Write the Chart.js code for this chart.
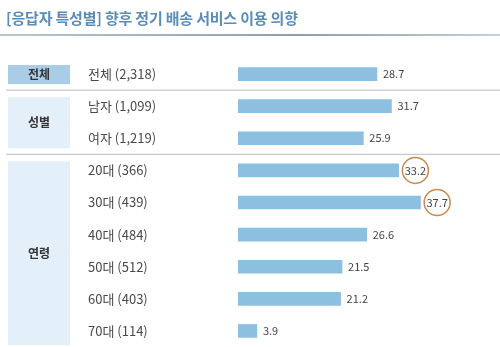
<!DOCTYPE html>
<html>
<head>
<meta charset="utf-8">
<script src="https://cdn.jsdelivr.net/npm/chart.js@4/dist/chart.umd.min.js"></script>
<style>
  html, body { margin: 0; padding: 0; background: #fff; }
  #wrap { position: relative; width: 500px; height: 347px; }
  #title {
    position: absolute; left: 6px; top: 7px;
    font-family: "Noto Sans CJK KR", sans-serif; font-weight: bold;
    font-size: 15px; color: #5a8cb6; letter-spacing: -0.2px;
  }
  #rule {
    position: absolute; left: 0; top: 34px; width: 500px; height: 2px;
    background: linear-gradient(to right, #b9c6d2, #8d9fb0 60%, #c5d0da);
  }
</style>
</head>
<body>
<div id="wrap">
  <div id="title">[응답자 특성별] 향후 정기 배송 서비스 이용 의향</div>
  <div id="rule"></div>
  <canvas id="c" width="500" height="347"></canvas>
</div>
<script>
const rowLabels = ['전체 (2,318)', '남자 (1,099)', '여자 (1,219)', '20대 (366)', '30대 (439)',
  '40대 (484)', '50대 (512)', '60대 (403)', '70대 (114)']
const values = [28.7, 31.7, 25.9, 33.2, 37.7, 26.6, 21.5, 21.2, 3.9]
const groupNames = ['전체', '성별', '연령']
const groupStart = [0, 1, 3]
const groupEnd = [0, 2, 8]
const circled = [3, 4]

const font = '"Noto Sans CJK KR", sans-serif'

const tablePlugin = {
  id: 'tablePlugin',
  beforeDatasetsDraw(chart) {
    const ctx = chart.ctx
    const y = chart.scales.y
    const step = y.getPixelForValue(1) - y.getPixelForValue(0)
    ctx.save()
    groupNames.forEach((name, g) => {
      const top = y.getPixelForValue(groupStart[g]) - step / 2 + 7
      let bottom = y.getPixelForValue(groupEnd[g]) + step / 2 - 6
      if (g === 2) bottom = 345
      ctx.fillStyle = g === 0 ? '#a9cde6' : '#e4f0f9'
      ctx.fillRect(8, top, 62, bottom - top)
      ctx.fillStyle = '#333'
      ctx.font = 'bold 12px ' + font
      ctx.textAlign = 'center'
      ctx.textBaseline = 'middle'
      ctx.fillText(name, 39, (top + bottom) / 2)
      if (g > 0) {
        const sep = y.getPixelForValue(groupStart[g]) - step / 2
        ctx.strokeStyle = '#bcbcbc'
        ctx.lineWidth = 1
        ctx.beginPath()
        ctx.moveTo(6, sep)
        ctx.lineTo(500, sep)
        ctx.stroke()
      }
    })
    ctx.fillStyle = '#4a4a4a'
    ctx.font = '13px ' + font
    ctx.textAlign = 'left'
    rowLabels.forEach((lab, i) => {
      ctx.fillText(lab, 88, y.getPixelForValue(i))
    })
    ctx.restore()
  },
  afterDatasetsDraw(chart) {
    const ctx = chart.ctx
    const x = chart.scales.x
    const y = chart.scales.y
    ctx.save()
    ctx.font = '11px ' + font
    ctx.textBaseline = 'middle'
    ctx.textAlign = 'left'
    values.forEach((v, i) => {
      const px = x.getPixelForValue(v) + 6
      const py = y.getPixelForValue(i)
      const txt = v.toFixed(1)
      ctx.fillStyle = '#444'
      ctx.fillText(txt, px, py)
      if (circled.includes(i)) {
        const w = ctx.measureText(txt).width
        ctx.strokeStyle = '#c9894f'
        ctx.lineWidth = 1.5
        ctx.beginPath()
        ctx.arc(px + w / 2, py, 13, 0, Math.PI * 2)
        ctx.stroke()
      }
    })
    ctx.restore()
  }
}

new Chart(document.getElementById('c'), {
  type: 'bar',
  data: {
    labels: rowLabels,
    datasets: [{
      data: values,
      backgroundColor: '#8dbfe0',
      barThickness: 13
    }]
  },
  options: {
    indexAxis: 'y',
    responsive: false,
    animation: false,
    layout: { padding: { left: 238, right: 20, top: 58, bottom: 0 } },
    plugins: {
      legend: { display: false },
      tooltip: { enabled: false }
    },
    scales: {
      x: { display: false, min: 0, max: 50 },
      y: { display: false }
    }
  },
  plugins: [tablePlugin]
})
</script>
</body>
</html>
